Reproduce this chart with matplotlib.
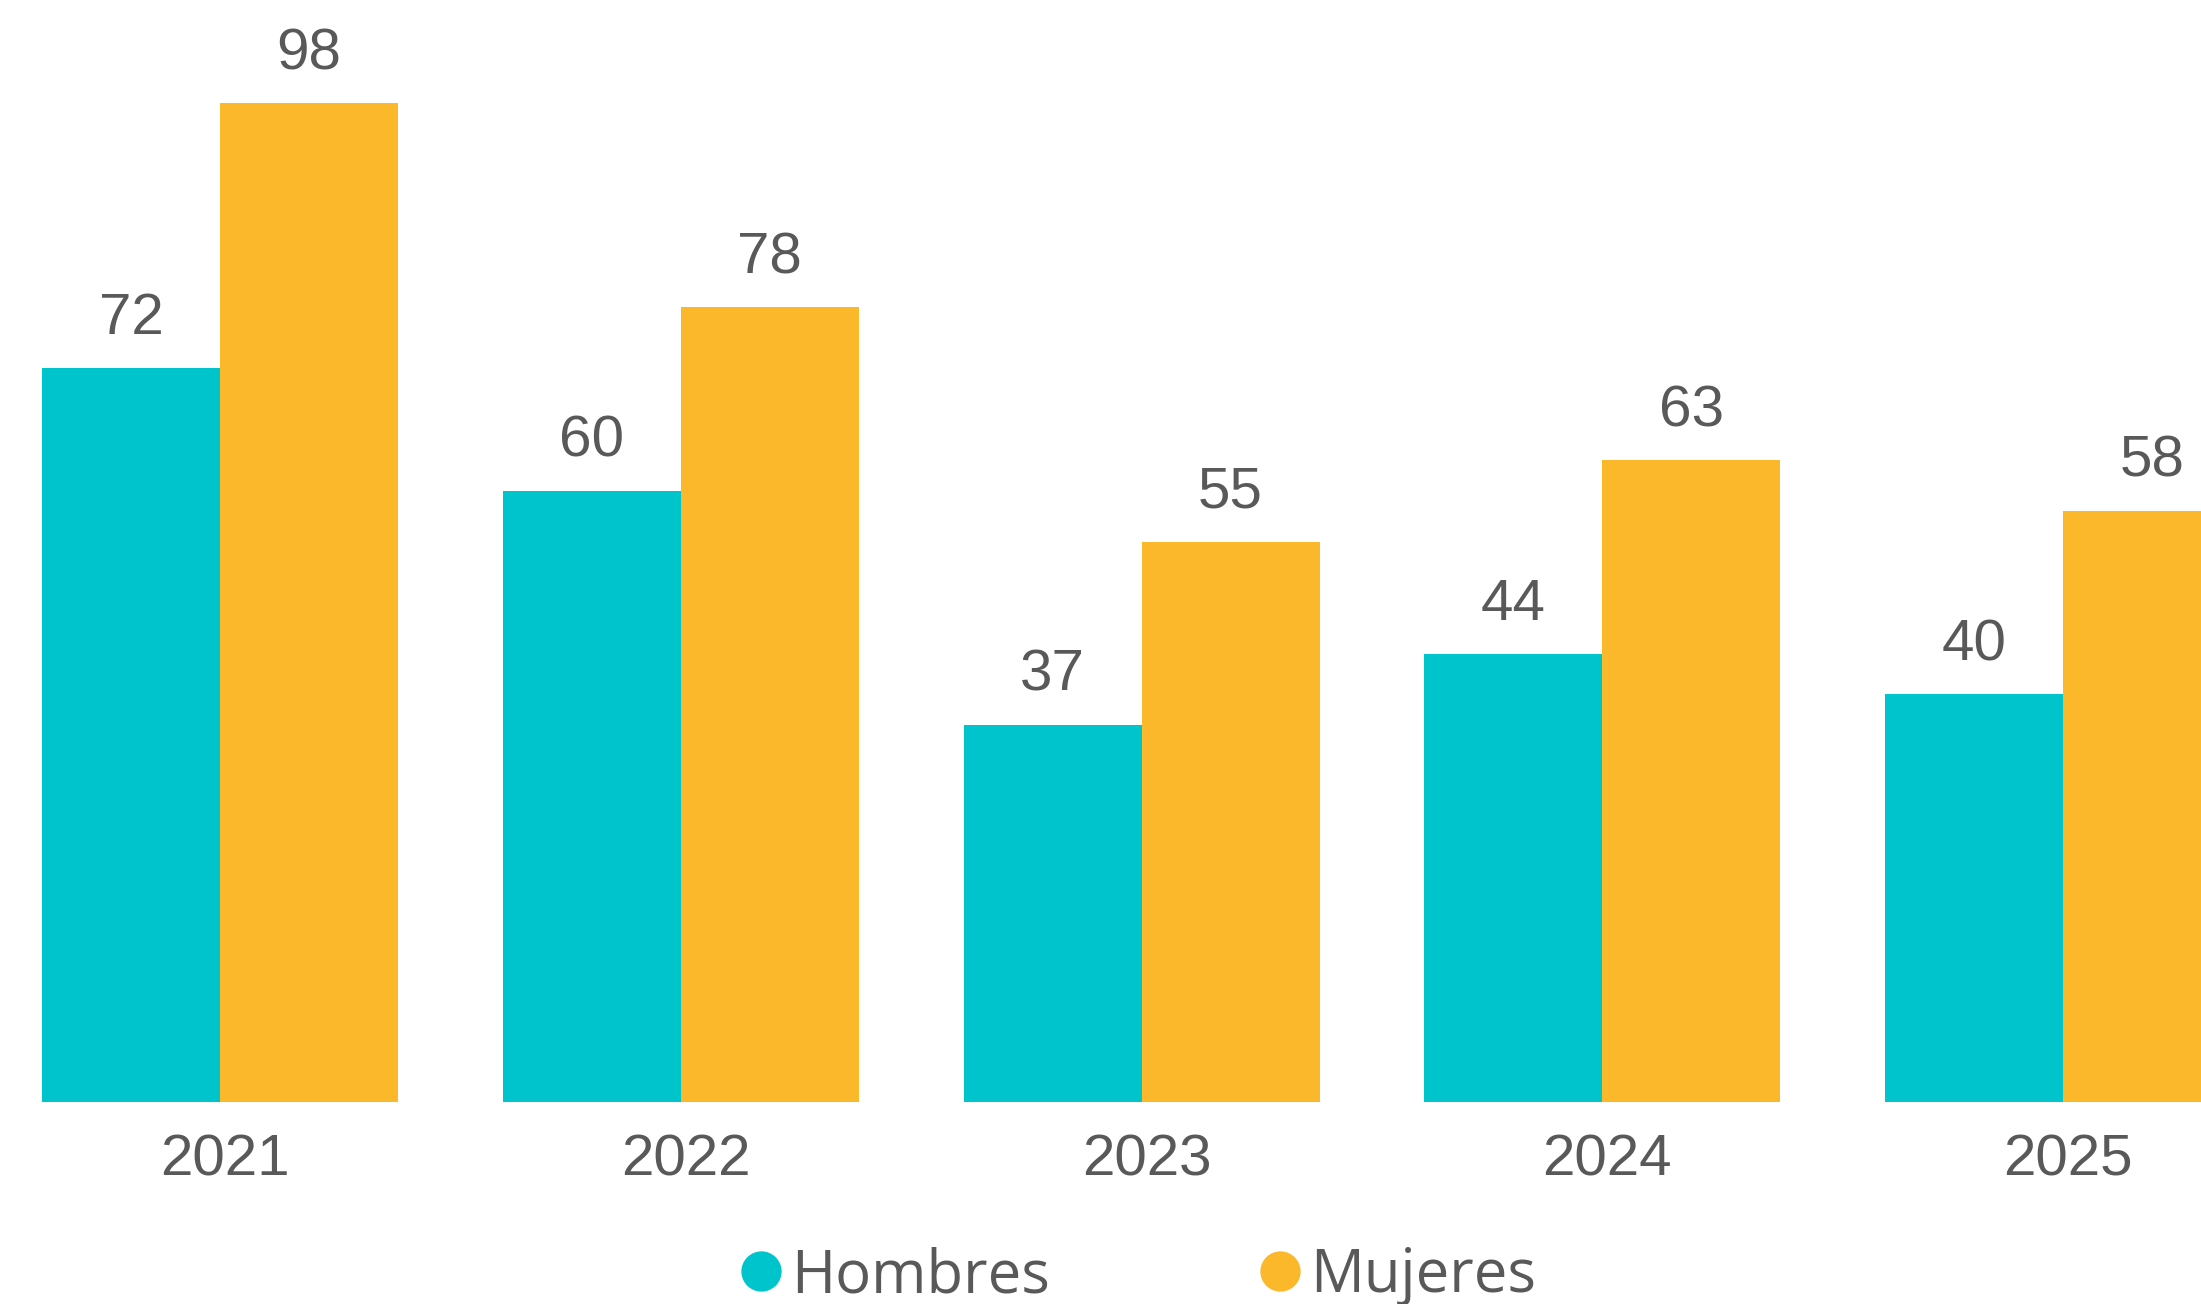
import matplotlib
matplotlib.use("Agg")
import matplotlib.pyplot as plt
from matplotlib.lines import Line2D
import matplotlib.transforms as mtransforms
import numpy as np

years = ["2021", "2022", "2023", "2024", "2025"]
hombres = [72, 60, 37, 44, 40]
mujeres = [98, 78, 55, 63, 58]
series_names = ["Hombres", "Mujeres"]

TEAL = "#00C4CC"
ORANGE = "#FAB82A"
TEXT = "#595959"

W, H, DPI = 2201, 1304, 100
fig = plt.figure(figsize=(W / DPI, H / DPI), dpi=DPI)
base_px = 1102
ax = fig.add_axes([0, (H - base_px) / H, 1, base_px / H])

x = np.arange(len(years))
bw = 178 / 460.75
b1 = ax.bar(x - bw / 2, hombres, width=bw, color=TEAL, label=series_names[0])
b2 = ax.bar(x + bw / 2, mujeres, width=bw, color=ORANGE, label=series_names[1])

for bars, vals in ((b1, hombres), (b2, mujeres)):
    for rect, v in zip(bars, vals):
        ax.annotate(f"{v}", xy=(rect.get_x() + rect.get_width() / 2, v),
                    xytext=(0, 24.5), textcoords="offset points",
                    ha="center", va="baseline", fontsize=42, color=TEXT,
                    family="Liberation Sans", annotation_clip=False)

ax.set_xlim(-220 / 460.75, (W - 220) / 460.75)
ax.set_ylim(0, base_px / 10.19)
ax.set_xticks(x, labels=years)
ax.tick_params(axis="x", length=0, pad=23, labelsize=42, labelcolor=TEXT)
shift = mtransforms.ScaledTranslation(5 / DPI, 0, fig.dpi_scale_trans)
for lab in ax.get_xticklabels():
    lab.set_family("Liberation Sans")
    lab.set_transform(lab.get_transform() + shift)
ax.set_yticks([])
for s in ax.spines.values():
    s.set_visible(False)

handles = [Line2D([], [], marker="o", linestyle="none", markersize=29,
                  markerfacecolor=c, markeredgecolor="none") for c in (TEAL, ORANGE)]
leg = fig.legend(handles, series_names, loc="lower center", ncol=2,
                 bbox_to_anchor=(0.517, -0.043), frameon=False,
                 prop={"family": "Open Sans", "size": 43},
                 handlelength=0.7, handletextpad=0.15, columnspacing=3.5,
                 labelcolor=TEXT)

fig.savefig("out.png", dpi=DPI)
